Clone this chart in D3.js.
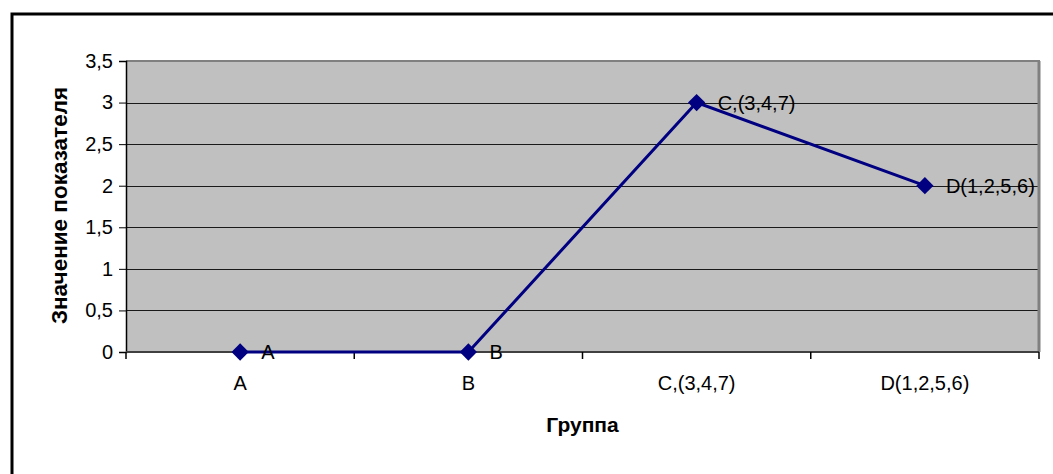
<!DOCTYPE html>
<html><head><meta charset="utf-8">
<script src="https://cdn.jsdelivr.net/npm/d3@7"></script>
<style>body{margin:0;background:#fff}svg{display:block}text{font-family:"Liberation Sans",Arial,sans-serif}</style>
</head><body><svg id="c" width="1053" height="474"></svg>
<script>
const categories = ["A", "B", "C,(3,4,7)", "D(1,2,5,6)"];
const values = [0, 0, 3, 2];
const pointLabels = ["A", "B", "C,(3,4,7)", "D(1,2,5,6)"];
const yTicks = [0, 0.5, 1, 1.5, 2, 2.5, 3, 3.5];
const yTitle = "Значение показателя";
const xTitle = "Группа";

const svg = d3.select("#c");
const L = 126, R = 1039, T = 61, B = 352;
const x = d3.scaleBand().domain(categories).range([L, R]);
const y = d3.scaleLinear().domain([0, 3.5]).range([B, T]);
const fmt = d => String(d).replace(".", ",");

// outer frame
svg.append("rect").attr("x", 12).attr("y", 14).attr("width", 1100).attr("height", 500)
  .attr("fill", "none").attr("stroke", "#000").attr("stroke-width", 3);

// plot area
svg.append("rect").attr("x", L).attr("y", T).attr("width", R - L).attr("height", B - T).attr("fill", "#c0c0c0");

// gridlines
svg.append("g").selectAll("line").data(yTicks.filter(d => d > 0 && d < 3.5)).join("line")
  .attr("x1", L).attr("x2", R).attr("y1", d => Math.round(y(d)) + 0.5).attr("y2", d => Math.round(y(d)) + 0.5)
  .attr("stroke", "#1a1a1a").attr("stroke-width", 1);

// top and right border
svg.append("line").attr("x1", L).attr("x2", R + 1).attr("y1", T).attr("y2", T).attr("stroke", "#808080").attr("stroke-width", 2);
svg.append("line").attr("x1", R).attr("x2", R).attr("y1", T).attr("y2", B).attr("stroke", "#808080").attr("stroke-width", 3);

// y axis
const yAxis = d3.axisLeft(y).tickValues(yTicks).tickFormat(fmt).tickSize(7).tickPadding(6);
const gy = svg.append("g").attr("transform", `translate(${L},0)`).call(yAxis);
gy.select(".domain").attr("stroke", "#000").attr("stroke-width", 1.5);
gy.selectAll(".tick line").attr("stroke", "#000");
gy.selectAll(".tick text").attr("font-size", 20).attr("fill", "#000").attr("font-family", '"Liberation Sans",Arial,sans-serif');

// x axis
const xAxis = d3.axisBottom(x).tickSize(0).tickPadding(0);
const gx = svg.append("g").attr("transform", `translate(0,${B})`).call(xAxis);
gx.select(".domain").remove();
gx.selectAll(".tick text").attr("font-size", 20).attr("fill", "#000").attr("dy", null).attr("y", 38)
  .attr("font-family", '"Liberation Sans",Arial,sans-serif');
svg.append("line").attr("x1", L).attr("x2", R).attr("y1", B).attr("y2", B).attr("stroke", "#404040").attr("stroke-width", 2);
// category boundary ticks
const bounds = categories.map(c => x(c)).concat([R]);
svg.append("g").selectAll("line").data(bounds).join("line")
  .attr("x1", d => d).attr("x2", d => d).attr("y1", B).attr("y2", B + 7)
  .attr("stroke", "#000").attr("stroke-width", 1.5);

// line
const cx = c => x(c) + x.bandwidth() / 2;
const pts = categories.map((c, i) => ({c, v: values[i], l: pointLabels[i]}));
svg.append("path").datum(pts)
  .attr("d", d3.line().x(d => cx(d.c)).y(d => y(d.v)))
  .attr("fill", "none").attr("stroke", "#000080").attr("stroke-width", 3);

// markers
const sym = d3.symbol().type(d3.symbolDiamond2).size(190);
svg.append("g").selectAll("path").data(pts).join("path")
  .attr("d", sym).attr("transform", d => `translate(${cx(d.c)},${y(d.v)})`)
  .attr("fill", "#000080");

// point labels
svg.append("g").selectAll("text").data(pts).join("text")
  .attr("x", d => cx(d.c) + 21).attr("y", d => y(d.v) + 7)
  .attr("font-size", 20).attr("fill", "#000").text(d => d.l);

// titles
svg.append("text").attr("x", (L + R) / 2).attr("y", 432).attr("text-anchor", "middle")
  .attr("font-size", 21).attr("font-weight", "bold").text(xTitle);
svg.append("text").attr("transform", `translate(67,${(T + B) / 2 - 1}) rotate(-90)`).attr("text-anchor", "middle")
  .attr("font-size", 22.5).attr("font-weight", "bold").text(yTitle);
</script></body></html>
